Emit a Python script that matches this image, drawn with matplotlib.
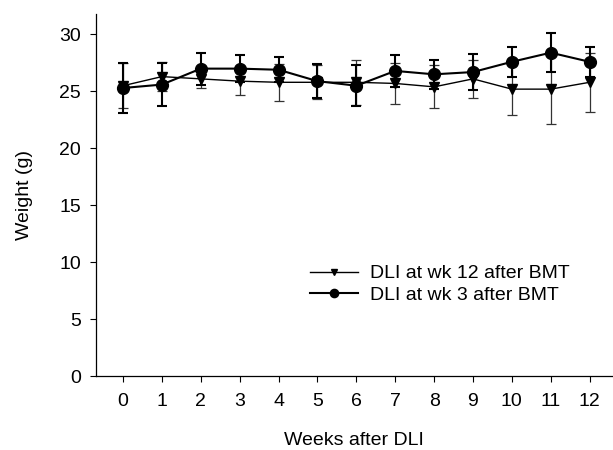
import matplotlib
matplotlib.use("Agg")
import matplotlib.pyplot as plt

weeks = [0, 1, 2, 3, 4, 5, 6, 7, 8, 9, 10, 11, 12]
wk12_mean = [25.5, 26.3, 26.1, 25.9, 25.8, 25.8, 25.8, 25.7, 25.4, 26.1, 25.2, 25.2, 25.8]
wk12_err = [2.0, 1.3, 0.8, 1.2, 1.6, 1.5, 2.0, 1.8, 1.9, 1.7, 2.3, 3.1, 2.6]
wk3_mean = [25.3, 25.6, 27.0, 27.0, 26.9, 25.9, 25.5, 26.8, 26.5, 26.7, 27.6, 28.4, 27.6]
wk3_err = [2.2, 1.9, 1.4, 1.2, 1.1, 1.5, 1.8, 1.4, 1.3, 1.6, 1.3, 1.7, 1.3]
labels = ["DLI at wk 12 after BMT", "DLI at wk 3 after BMT"]

plt.rcParams['font.family'] = ['Liberation Sans', 'DejaVu Sans']

fig = plt.figure(figsize=(6.13, 4.5), dpi=100)
ax = fig.add_axes([0.157, 0.164, 0.841, 0.805])

ax.errorbar(weeks, wk12_mean, yerr=wk12_err, fmt='none',
            elinewidth=0.9, capsize=3.8, capthick=0.9, ecolor='#333333')
ax.errorbar(weeks, wk3_mean, yerr=wk3_err, fmt='none',
            elinewidth=1.5, capsize=3.8, capthick=1.5, ecolor='black')
ax.plot(weeks, wk12_mean, color='black', marker='v', markersize=7,
        linewidth=1.0, label=labels[0])
ax.plot(weeks, wk3_mean, color='black', marker='o', markersize=8.5,
        linewidth=1.5, label=labels[1])

ax.set_xlim(-0.69, 12.57)
ax.set_ylim(0, 31.8)
ax.set_xticks(weeks)
ax.set_yticks([0, 5, 10, 15, 20, 25, 30])
ax.spines['top'].set_visible(False)
ax.spines['right'].set_visible(False)
ax.spines['left'].set_linewidth(0.9)
ax.spines['bottom'].set_linewidth(0.9)
ax.tick_params(axis='both', labelsize=14, length=4, width=0.8, direction='out')
ax.tick_params(axis='x', pad=8)
ax.tick_params(axis='y', pad=7)
ax.set_xlabel("Weeks after DLI", fontsize=14, labelpad=16)
ax.set_ylabel("Weight (g)", fontsize=14, labelpad=19)

leg = ax.legend(loc='upper left', bbox_to_anchor=(0.38, 0.356), frameon=False,
                fontsize=14, handlelength=2.5, handletextpad=0.6, labelspacing=0.2,
                markerscale=0.7)

fig.savefig("out.png", dpi=100)
